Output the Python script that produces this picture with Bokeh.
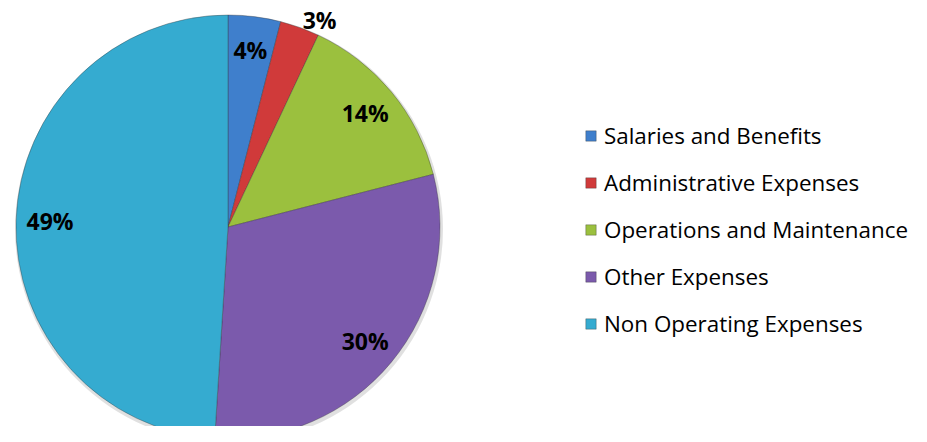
import math
from bokeh.plotting import figure
from bokeh.models import ColumnDataSource, Legend, LegendItem
from bokeh.core.properties import value
from bokeh.embed import file_html
from bokeh.resources import INLINE

categories = ["Salaries and Benefits", "Administrative Expenses",
              "Operations and Maintenance", "Other Expenses", "Non Operating Expenses"]
shares = [4, 3, 14, 30, 49]
pct_labels = ["4%", "3%", "14%", "30%", "49%"]
colors = ["#3F7FCC", "#D03A3A", "#9BC03E", "#7B5AAC", "#35ABD0"]

W, H = 911, 426
CX, CY, R = 227.5, H - 226.5, 212

total = float(sum(shares))
starts, ends, lx, ly, align = [], [], [], [], []
cum = 0.0
for v in shares:
    a0 = math.pi / 2 - 2 * math.pi * cum / total
    cum += v
    a1 = math.pi / 2 - 2 * math.pi * cum / total
    starts.append(a0)
    ends.append(a1)
    mid = (a0 + a1) / 2
    inside = v >= 4
    rr = R * (0.84 if inside else 1.04)
    lx.append(CX + rr * math.cos(mid))
    ly.append(CY + rr * math.sin(mid))
    align.append("center" if inside else "left")

src = ColumnDataSource(dict(cat=categories, start=starts, end=ends, color=colors,
                            lx=lx, ly=ly, lab=pct_labels, align=align))

p = figure(width=W, height=H, x_range=(0, W), y_range=(0, H),
           output_backend="svg", toolbar_location=None, min_border=0)
p.axis.visible = False
p.grid.visible = False
p.outline_line_color = None
p.background_fill_color = "white"

# soft shadow
p.circle(x=[CX + 1], y=[CY - 2], radius=R + 2, fill_color="#000000", fill_alpha=0.12, line_color=None)

renderers = []
for i in range(len(shares)):
    r = p.wedge(x=CX, y=CY, radius=R, start_angle=starts[i], end_angle=ends[i],
                direction="clock", fill_color=colors[i], line_color="#333333",
                line_alpha=0.35, line_width=1)
    renderers.append(r)

p.text(x="lx", y="ly", text="lab", source=src, text_align="align", text_baseline="middle",
       text_font=value("Open Sans"), text_font_style="bold", text_font_size="23px",
       text_color="black")

items = [LegendItem(label=categories[i], renderers=[renderers[i]]) for i in range(len(shares))]
legend = Legend(items=items, location=(584, H - 339), orientation="vertical",
                label_text_font="Open Sans", label_text_font_size="22.4px",
                label_text_color="#000000", label_standoff=7,
                glyph_width=13, glyph_height=13, label_height=25,
                spacing=16, padding=0, margin=0,
                border_line_color=None, background_fill_alpha=0)
p.add_layout(legend, "center")

open("out.html", "w").write(file_html(p, INLINE))
